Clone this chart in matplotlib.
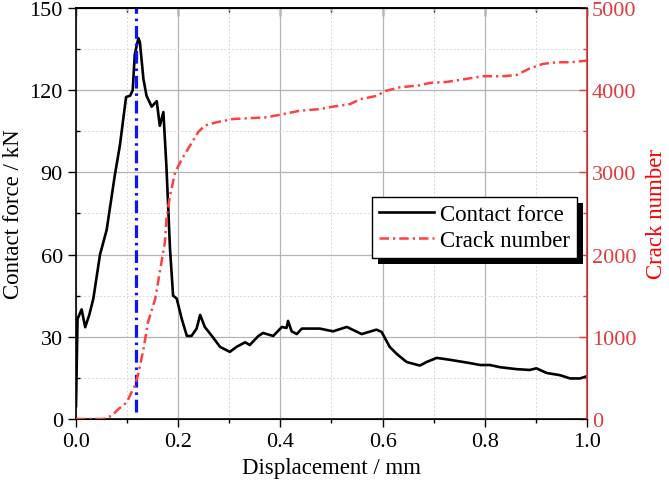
import matplotlib
matplotlib.use("Agg")
import matplotlib.pyplot as plt
from matplotlib.patches import Rectangle
from matplotlib.transforms import IdentityTransform
from matplotlib.ticker import MultipleLocator

plt.rcParams['font.family'] = ['Liberation Serif', 'DejaVu Serif']

# contact force (kN) vs displacement (mm)
disp_force = [0.0, 0.003, 0.011, 0.018, 0.026, 0.034, 0.047, 0.06, 0.076, 0.086,
              0.098, 0.106, 0.111, 0.115, 0.122, 0.125, 0.132, 0.138, 0.148, 0.158,
              0.164, 0.171, 0.177, 0.184, 0.187, 0.19, 0.197, 0.207, 0.217, 0.226,
              0.236, 0.243, 0.252, 0.266, 0.282, 0.301, 0.314, 0.331, 0.34, 0.357,
              0.366, 0.386, 0.403, 0.412, 0.415, 0.422, 0.432, 0.442, 0.477, 0.503,
              0.53, 0.559, 0.588, 0.598, 0.614, 0.628, 0.647, 0.673, 0.686, 0.706,
              0.732, 0.771, 0.791, 0.81, 0.83, 0.862, 0.888, 0.901, 0.921, 0.947,
              0.967, 0.986, 1.0]
force = [4.7, 36.5, 40, 33.5, 38, 44, 60, 69, 89, 100,
         117.5, 118, 120, 133, 139, 137.6, 124, 118, 114, 116,
         107, 112, 92, 62, 53.6, 45, 44, 36.5, 30.3, 30.3,
         33, 38, 33.6, 30.3, 26.3, 24.5, 26.3, 28, 27, 30.3,
         31.4, 30.3, 33.6, 33.2, 35.8, 32, 31, 33, 33, 32,
         33.6, 31, 32.6, 31.8, 26.3, 23.7, 20.8, 19.5, 20.8, 22.3,
         21.6, 20.4, 19.7, 19.7, 18.9, 18.2, 17.9, 18.5, 16.8, 16,
         14.8, 14.8, 15.6]

# crack number vs displacement
disp_crack = [0.0, 0.053, 0.07, 0.083, 0.099, 0.115, 0.122, 0.132, 0.141, 0.155,
              0.164, 0.174, 0.177, 0.184, 0.194, 0.207, 0.223, 0.239, 0.252, 0.275,
              0.308, 0.373, 0.406, 0.438, 0.477, 0.503, 0.536, 0.556, 0.588, 0.605,
              0.634, 0.673, 0.693, 0.725, 0.771, 0.797, 0.836, 0.862, 0.888, 0.914,
              0.94, 0.967, 1.0]
cracks = [0, 0, 40, 120, 200, 405, 550, 850, 1180, 1460,
          1790, 2150, 2430, 2720, 3000, 3160, 3325, 3490, 3570, 3610,
          3650, 3670, 3710, 3750, 3770, 3800, 3830, 3890, 3930, 3990,
          4035, 4060, 4090, 4100, 4145, 4170, 4170, 4185, 4265, 4320,
          4340, 4340, 4360]

peak_disp = 0.118
peak_span = [2.5, 150]

red = '#ff4040'
axis_red = '#e03c40'

fig = plt.figure(figsize=(6.69, 4.89), dpi=100)
ax = fig.add_axes([0.1136, 0.1411, 0.7638, 0.8405])
ax2 = ax.twinx()

l1, = ax.plot(disp_force, force, color='black', lw=1.9, label='Contact force')
ax.plot([peak_disp, peak_disp], peak_span, color='#0a14ff', lw=2.3,
        linestyle=(0, (4, 1.5, 0.8, 1.5)))
l2, = ax2.plot(disp_crack, cracks, color=red, lw=1.8,
               linestyle=(0, (3.8, 1.6, 0.9, 1.6)), label='Crack number')

ax.set_xlim(0, 1.0)
ax.set_ylim(0, 150)
ax2.set_ylim(0, 5000)
ax.xaxis.set_major_locator(MultipleLocator(0.2))
ax.xaxis.set_minor_locator(MultipleLocator(0.1))
ax.yaxis.set_major_locator(MultipleLocator(30))
ax.yaxis.set_minor_locator(MultipleLocator(15))
ax2.yaxis.set_major_locator(MultipleLocator(1000))
ax2.yaxis.set_minor_locator(MultipleLocator(500))
ax.xaxis.set_major_formatter(lambda v, p: f'{v:.1f}')

ax.grid(which='major', color='#b4b4b4', lw=0.9)
ax.grid(which='minor', color='#d8d8d8', lw=0.7, linestyle=(0, (2, 2)))
ax.set_axisbelow(True)

ax.tick_params(axis='both', which='both', labelsize=16, width=1.0,
               direction='out', top=False, right=False)
ax.tick_params(which='major', length=6)
ax.tick_params(which='minor', length=3)
ax.tick_params(axis='y', which='minor', direction='in')

# top axis: ticks pointing inward, no labels
top = ax.secondary_xaxis('top')
top.xaxis.set_major_locator(MultipleLocator(0.2))
top.xaxis.set_minor_locator(MultipleLocator(0.1))
top.tick_params(which='both', direction='in', labeltop=False, width=1.0)
top.tick_params(which='major', length=6)
top.tick_params(which='minor', length=3)
top.spines['top'].set_linewidth(1.2)

ax2.tick_params(axis='y', which='both', direction='in', colors=axis_red,
                labelsize=16, width=1.0)
ax2.tick_params(which='major', length=6)
ax2.tick_params(which='minor', length=3)
for sp in ['left', 'bottom', 'top']:
    ax.spines[sp].set_linewidth(1.2)
ax2.spines['right'].set_color(axis_red)
ax2.spines['right'].set_linewidth(1.2)
ax2.spines['left'].set_visible(False)

ax.set_xlabel('Displacement / mm', fontsize=16.5, labelpad=4)
ax.set_ylabel('Contact force / kN', fontsize=16.5, labelpad=4)
ax2.set_ylabel('Crack number', fontsize=16.5, color='red', labelpad=7)

leg = ax2.legend([l1, l2], ['Contact force', 'Crack number'],
                 loc='upper left', bbox_to_anchor=(0.58, 0.541),
                 fontsize=16.5, frameon=True, fancybox=False,
                 edgecolor='black', framealpha=1, handlelength=2.4,
                 handletextpad=0.25, borderpad=0.3, labelspacing=0.25,
                 borderaxespad=0)
leg.get_frame().set_linewidth(1.0)
leg.set_zorder(10)

fig.canvas.draw()
bb = leg.get_window_extent()
shadow = Rectangle((bb.x0 + 6, bb.y0 - 6), bb.width, bb.height,
                   transform=IdentityTransform(), facecolor='black',
                   edgecolor='none', zorder=9, clip_on=False)
ax2.add_artist(shadow)

fig.savefig('out.png', dpi=100)
